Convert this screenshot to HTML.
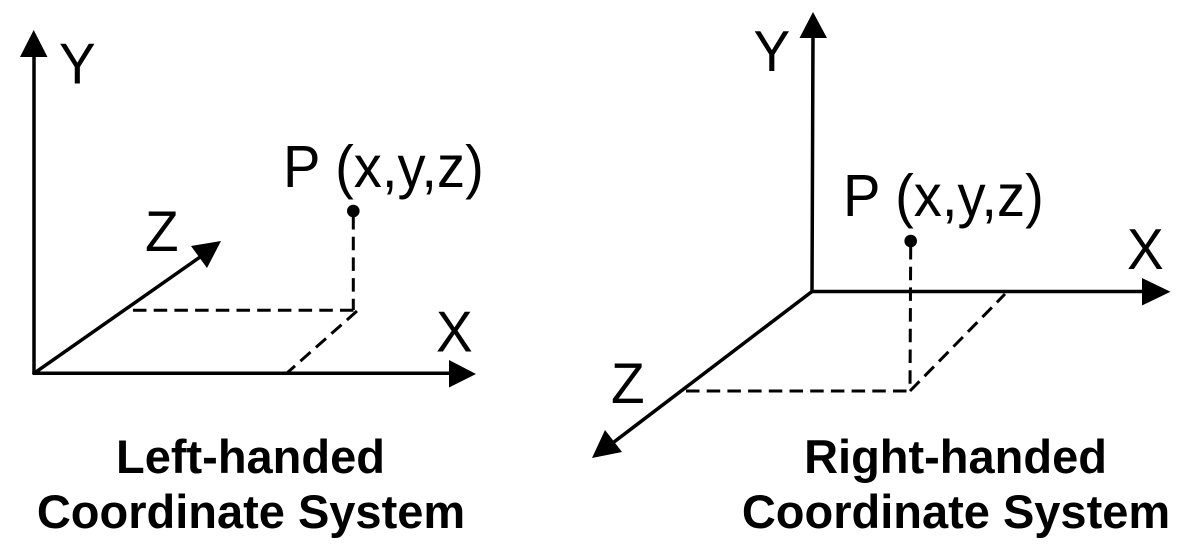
<!DOCTYPE html>
<html>
<head>
<meta charset="utf-8">
<title>Left-handed and Right-handed Coordinate Systems</title>
<style>
html,body{margin:0;padding:0;background:#fff}
svg{display:block}
text{font-family:"Liberation Sans",Arial,sans-serif;fill:#000}
.lab{font-size:55px}
.pt{font-size:56.2px}
.title{font-size:47px;font-weight:bold;text-anchor:middle}
.ax{stroke:#000;stroke-width:3.5;fill:none;stroke-linecap:round}
.da{stroke:#000;stroke-width:3;fill:none;stroke-dasharray:13.5 7.2}
</style>
</head>
<body>
<svg width="1201" height="553" viewBox="0 0 1201 553" xmlns="http://www.w3.org/2000/svg">
<rect width="1201" height="553" fill="#fff"/>
<g>
<line class="ax" x1="34" y1="373.3" x2="34" y2="50"/>
<polygon points="33.7,30 20,57 47.5,57"/>
<line class="ax" x1="34" y1="373.3" x2="455" y2="373.3"/>
<polygon points="476,374 449,360 449,387.5"/>
<line class="ax" x1="34" y1="373.3" x2="203" y2="255"/>
<polygon points="221,241 191,246 207,268"/>
<line class="da" x1="133" y1="310.3" x2="357" y2="310.3"/>
<line class="da" x1="353.3" y1="216" x2="353.3" y2="310"/>
<line class="da" x1="357" y1="311" x2="287" y2="373"/>
<circle cx="353.3" cy="211" r="6.3"/>
<text class="lab" transform="translate(59 83.5) scale(1 1.05)">Y</text>
<text class="lab" transform="translate(436 351.5) scale(1 1.05)">X</text>
<text class="lab" transform="translate(145 251) scale(1 1.05)">Z</text>
<text class="pt" transform="translate(283 187) scale(1 1.05)">P (x,y,z)</text>
<text class="title" x="250.5" y="473">Left-handed</text>
<text class="title" x="251" y="528">Coordinate System</text>
</g>
<g>
<line class="ax" x1="812" y1="291.5" x2="813" y2="32"/>
<polygon points="813,12 799.5,38 827,38"/>
<line class="ax" x1="812" y1="291.5" x2="1150" y2="291.5"/>
<polygon points="1170.5,291.7 1142,278 1142,305.5"/>
<line class="ax" x1="812" y1="291.5" x2="610" y2="445"/>
<polygon points="592,458 605,430 622,452"/>
<line class="da" x1="686" y1="391" x2="910" y2="391"/>
<line class="da" x1="910.7" y1="246" x2="910" y2="391"/>
<line class="da" x1="910" y1="391" x2="1005" y2="294"/>
<circle cx="910.7" cy="241" r="6.3"/>
<text class="lab" transform="translate(753.5 71) scale(1 1.05)">Y</text>
<text class="lab" transform="translate(1127 269) scale(1 1.05)">X</text>
<text class="lab" transform="translate(611 403) scale(1 1.05)">Z</text>
<text class="pt" transform="translate(843 216) scale(1 1.05)">P (x,y,z)</text>
<text class="title" x="955.5" y="473">Right-handed</text>
<text class="title" x="956" y="528">Coordinate System</text>
</g>
</svg>
</body>
</html>
